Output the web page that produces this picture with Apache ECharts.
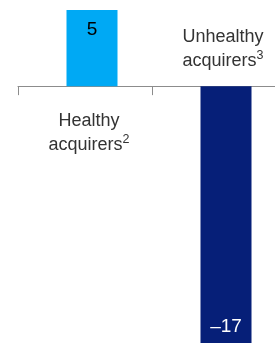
<!DOCTYPE html>
<html>
<head>
<meta charset="utf-8">
<script src="https://cdn.jsdelivr.net/npm/echarts@6/dist/echarts.min.js"></script>
<style>
    html, body { margin: 0; padding: 0; background: #fff; }
    #main { width: 275px; height: 343px; }
</style>
</head>
<body>
<div id="main"></div>
<script>
    // 数据
    var categories = ['Healthy acquirers', 'Unhealthy acquirers'];
    var footnotes = ['2', '3'];
    var values = [5, -17];
    var barColors = ['#00a9f4', '#061f78'];
    var valueLabelColors = ['#000000', '#ffffff'];

    var font = '"Liberation Sans", Arial, sans-serif';
    var yMin = -17;
    var yMax = 5;

    // 布局
    var plotTop = 10;
    var plotHeight = 335;
    var zeroY = plotTop + plotHeight * yMax / (yMax - yMin);

    // 类目标签：名称换行 + 上标
    function catLabel(idx) {
        var words = categories[idx].split(' ');
        return '{t|' + words[0] + '}\n{t|' + words[1] + '}{sup|' + footnotes[idx] + '}';
    }
    var richText = {
        t: { fontSize: 18, color: '#333333', fontFamily: font, lineHeight: 24 },
        sup: { fontSize: 12.5, color: '#333333', fontFamily: font, verticalAlign: 'top', lineHeight: 24, padding: [0, 0, 7, 0] }
    };
    var noLine = { show: false };

    var chart = echarts.init(document.getElementById('main'));
    var option = {
        animation: false,
        grid: [
            // 柱子
            { left: 25, width: 268, top: plotTop, height: plotHeight, outerBoundsMode: 'none' },
            // 带刻度的零线
            { left: 18, width: 268, top: plotTop, height: plotHeight, outerBoundsMode: 'none' },
            // 零线上下的类目标签
            { left: 22, width: 268, top: zeroY - 0.5, height: 1, outerBoundsMode: 'none' }
        ],
        xAxis: [{
            type: 'category',
            gridIndex: 0,
            data: categories,
            show: false
        }, {
            type: 'category',
            gridIndex: 1,
            data: categories,
            axisLine: { show: true, onZero: true, lineStyle: { color: '#8c8c8c', width: 1 } },
            axisTick: { show: true, interval: 0, length: 9, lineStyle: { color: '#8c8c8c' } },
            axisLabel: { show: false }
        }, {
            type: 'category',
            gridIndex: 2,
            data: categories,
            position: 'bottom',
            axisLine: noLine,
            axisTick: { show: false },
            axisLabel: {
                margin: 22,
                interval: 0,
                formatter: function (v, i) { return i === 0 ? catLabel(0) : ''; },
                rich: richText
            }
        }, {
            type: 'category',
            gridIndex: 2,
            data: categories,
            position: 'top',
            axisLine: noLine,
            axisTick: { show: false },
            axisLabel: {
                margin: 13,
                interval: 0,
                formatter: function (v, i) { return i === 1 ? catLabel(1) : ''; },
                rich: richText
            }
        }],
        yAxis: [
            { type: 'value', gridIndex: 0, min: yMin, max: yMax, show: false },
            { type: 'value', gridIndex: 1, min: yMin, max: yMax, show: false },
            { type: 'value', gridIndex: 2, min: 0, max: 1, show: false }
        ],
        series: [{
            type: 'bar',
            xAxisIndex: 0,
            yAxisIndex: 0,
            barWidth: 51,
            data: values.map(function (v, i) {
                return {
                    value: v,
                    itemStyle: { color: barColors[i] },
                    label: {
                        show: true,
                        position: v >= 0 ? 'insideTop' : 'insideBottom',
                        distance: v >= 0 ? 10 : 9,
                        color: valueLabelColors[i],
                        fontSize: 19,
                        fontFamily: font
                    }
                };
            }),
            label: {
                formatter: function (p) {
                    return p.value < 0 ? '\u2013' + Math.abs(p.value) : String(p.value);
                }
            }
        }]
    };
    chart.setOption(option);
</script>
</body>
</html>
